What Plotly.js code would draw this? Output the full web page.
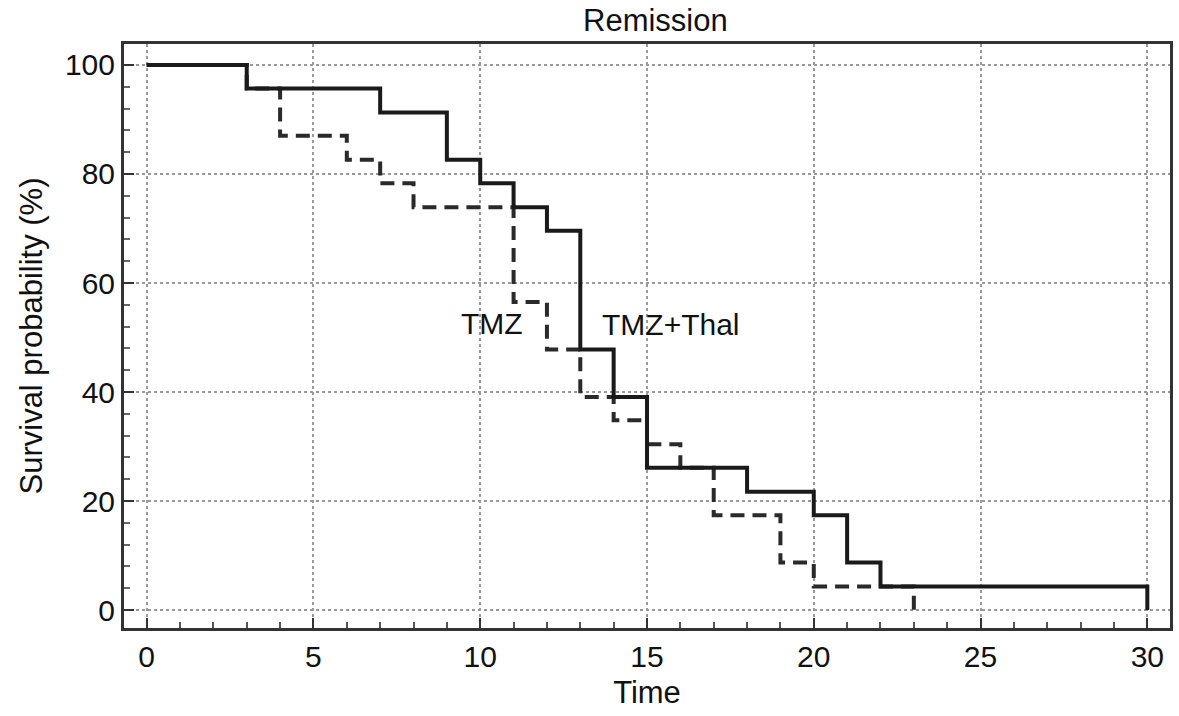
<!DOCTYPE html>
<html>
<head>
<meta charset="utf-8">
<script src="https://cdn.plot.ly/plotly-3.0.1.min.js"></script>
<style>html,body{margin:0;padding:0;background:#fff;}#chart{width:1179px;height:716px;}</style>
</head>
<body>
<div id="chart"></div>
<script>
// Kaplan-Meier step data (time, survival %)
const thalTimes = [0, 3, 7, 9, 10, 11, 12, 13, 14, 15, 18, 20, 21, 22, 30];
const thalSurv  = [100, 95.7, 91.3, 82.6, 78.3, 73.9, 69.6, 47.8, 39.1, 26.1, 21.7, 17.4, 8.7, 4.3, 0];
const tmzTimes  = [0, 3, 4, 6, 7, 8, 11, 12, 13, 14, 15, 16, 17, 19, 20, 23];
const tmzSurv   = [100, 95.7, 87, 82.6, 78.3, 73.9, 56.5, 47.8, 39.1, 34.8, 30.4, 26.1, 17.4, 8.7, 4.3, 0];
const seriesNames = ["TMZ", "TMZ+Thal"];
const labelPos = {TMZ: [10.35, 52.5], "TMZ+Thal": [15.72, 52.3]};
const xTicks = [0, 5, 10, 15, 20, 25, 30];
const yTicks = [0, 20, 40, 60, 80, 100];

const fam = "Liberation Sans, Arial, sans-serif";
const tickFont = {family: fam, size: 30, color: "#111"};
const titleFont = {family: fam, size: 31, color: "#111"};

const traces = [
  {x: tmzTimes, y: tmzSurv, name: seriesNames[0], mode: "lines",
   line: {shape: "hv", color: "#2a2a2a", width: 4, dash: "14px,8px"}},
  {x: thalTimes, y: thalSurv, name: seriesNames[1], mode: "lines",
   line: {shape: "hv", color: "#1a1a1a", width: 4}}
];

const layout = {
  width: 1179, height: 716,
  margin: {l: 124, r: 9, t: 44, b: 88},
  paper_bgcolor: "#fff", plot_bgcolor: "#fff",
  showlegend: false,
  font: tickFont,
  title: {text: "Remission", font: titleFont, xref: "paper", x: 0.508, xanchor: "center", y: 0.972, yanchor: "middle"},
  xaxis: {
    range: [-0.68, 30.68], tickvals: xTicks, ticktext: xTicks.map(String),
    showline: true, mirror: true, linewidth: 3, linecolor: "#333",
    ticks: "inside", ticklen: 10, tickwidth: 2, tickcolor: "#333",
    minor: {dtick: 1, ticks: "inside", ticklen: 6, tickwidth: 2, tickcolor: "#555", showgrid: false},
    showgrid: true, gridcolor: "#999", griddash: "dot", gridwidth: 2,
    zeroline: false, tickfont: tickFont,
    title: {text: "Time", font: titleFont, standoff: 10}
  },
  yaxis: {
    range: [-3.3, 103.85], tickvals: yTicks, ticktext: yTicks.map(String),
    showline: true, mirror: true, linewidth: 3, linecolor: "#333",
    ticks: "inside", ticklen: 10, tickwidth: 2, tickcolor: "#333",
    minor: {dtick: 4, ticks: "inside", ticklen: 6, tickwidth: 2, tickcolor: "#666", showgrid: false},
    showgrid: true, gridcolor: "#999", griddash: "dot", gridwidth: 2,
    zeroline: false, tickfont: tickFont,
    title: {text: "Survival probability (%)", font: titleFont, standoff: 14}
  },
  annotations: seriesNames.map(n => ({
    x: labelPos[n][0], y: labelPos[n][1], text: n, showarrow: false,
    font: {family: fam, size: 30, color: "#111"}, xanchor: "center", yanchor: "middle"
  }))
};

Plotly.newPlot("chart", traces, layout, {staticPlot: true, displayModeBar: false});
</script>
</body>
</html>
